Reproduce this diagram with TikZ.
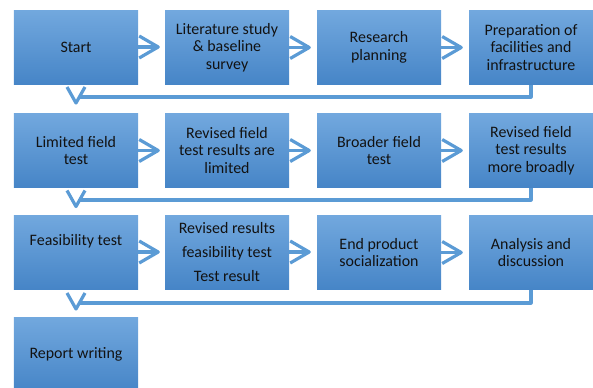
\documentclass[tikz,border=0pt]{standalone}
\usepackage{fontspec}
\setmainfont{Carlito}
\usetikzlibrary{calc}

\definecolor{boxtop}{RGB}{114,168,222}
\definecolor{boxbot}{RGB}{70,133,199}
\definecolor{linkc}{RGB}{91,155,213}
\definecolor{textc}{RGB}{18,18,18}

\tikzset{
  stepbox/.style={minimum width=124bp, minimum height=74bp, inner sep=0pt,
    top color=boxtop, bottom color=boxbot, draw=none, align=center,
    text=textc, font=\fontsize{16}{17.5}\selectfont},
  widebox/.style={stepbox, font=\fontsize{16}{24.5}\selectfont},
  link/.style={draw=linkc, line width=3.2bp, line join=round},
}

% open chevron heads: pointing right / pointing down, at a named tip
\newcommand\chevR[1]{\draw[link] ($(#1)+(-19,-11)$) -- (#1) -- ($(#1)+(-19,11)$);}
\newcommand\chevD[1]{\draw[link] ($(#1)+(-9,-16)$) -- (#1) -- ($(#1)+(9,-16)$);}

\begin{document}
\begin{tikzpicture}[x=1bp, y=-1bp]
  \useasboundingbox (0,0) rectangle (593,387);
  \clip (0,0) rectangle (593,387);

  % row 1
  \node[stepbox] (a1) at (76,47)  {Start};
  \node[stepbox] (a2) at (227,47.5) {Literature study\\\& baseline\\survey};
  \node[stepbox] (a3) at (379,47.5) {Research\\planning};
  \node[stepbox] (a4) at (531,47.5) {Preparation of\\facilities and\\infrastructure};

  % row 2
  \node[stepbox] (b1) at (76,150.5)  {Limited field\\test};
  \node[stepbox] (b2) at (227,150.5) {Revised field\\test results are\\limited};
  \node[stepbox] (b3) at (379,150.5) {Broader field\\test};
  \node[stepbox] (b4) at (531,150.5) {Revised field\\test results\\more broadly};

  % row 3
  \node[widebox] (c1) at (76,252)  {Feasibility test\\\mbox{}};
  \node[widebox] (c2) at (227,252) {Revised results\\feasibility test\\Test result};
  \node[stepbox] (c3) at (379,252.5) {End product\\socialization};
  \node[stepbox] (c4) at (531,252.5) {Analysis and\\discussion};

  % row 4
  \node[stepbox] (d1) at (76,354) {Report writing};

  % arrows within each row
  \foreach \r in {a,b,c}{
    \foreach \i/\j in {1/2,2/3,3/4}{
      \coordinate (\r\i t) at ($(\r\i.east)+(20,0)$);
      \draw[link] (\r\i.east) -- ($(\r\i t)+(-2,0)$);
      \chevR{\r\i t}
    }
  }

  % return links from the end of one row to the start of the next
  \coordinate (ra) at (79.5,97);
  \coordinate (ta) at (76,103);
  \draw[link] (a4.south) |- (ra);
  \chevD{ta}

  \coordinate (rb) at (79.5,200);
  \coordinate (tb) at (76,206.5);
  \draw[link] (b4.south) |- (rb);
  \chevD{tb}

  \coordinate (rc) at (79.5,303);
  \coordinate (tc) at (76,309);
  \draw[link] (c4.south) |- (rc);
  \chevD{tc}
\end{tikzpicture}
\end{document}
